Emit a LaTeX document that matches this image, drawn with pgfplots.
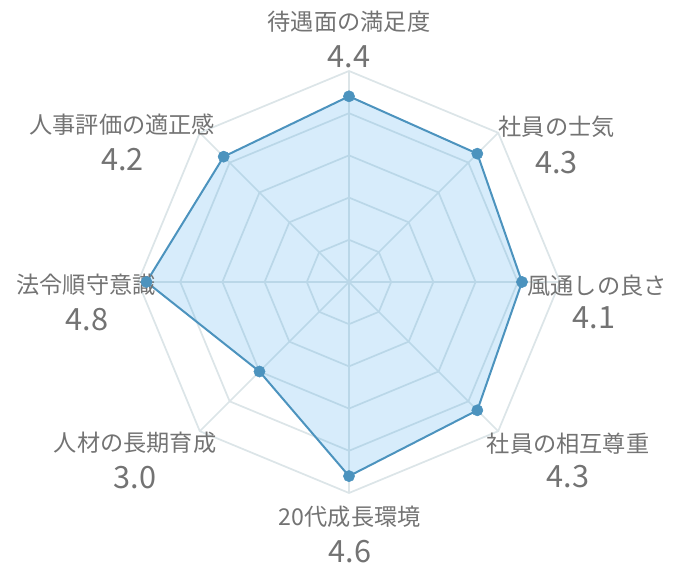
\documentclass[border=0pt]{standalone}
\usepackage{pgfplots}
\pgfplotsset{compat=1.18}
\usepackage{fontspec}
\newfontfamily\jp{Noto Sans CJK JP}
\definecolor{gridc}{RGB}{220,229,232}
\definecolor{linec}{RGB}{76,147,190}
\definecolor{fillc}{RGB}{54,162,235}
\definecolor{txt}{RGB}{115,115,115}
\begin{document}
\begin{tikzpicture}[
  grid line/.style={gridc, line width=1.3pt, mark=none},
  lab/.style={font=\jp\fontsize{17.4}{18}\selectfont, text=txt, inner sep=0pt},
  val/.style={font=\jp\fontsize{23}{24}\selectfont, text=txt, inner sep=0pt},
]
\begin{axis}[
  x=31.65pt, y=31.65pt,
  xmin=-8.270, xmax=7.749,
  ymin=-6.872, ymax=6.682,
  hide axis, clip=false,
]
% rings
\pgfplotsinvokeforeach{1,2,3,4,5}{
  \addplot[grid line, data cs=polar] coordinates {(90,#1) (45,#1) (0,#1) (-45,#1) (-90,#1) (-135,#1) (180,#1) (135,#1) (90,#1)};
}
% spokes
\addplot[grid line, data cs=polar] coordinates {(90,5) (-90,5)};
\addplot[grid line, data cs=polar] coordinates {(45,5) (-135,5)};
\addplot[grid line, data cs=polar] coordinates {(0,5) (180,5)};
\addplot[grid line, data cs=polar] coordinates {(-45,5) (135,5)};
% data
\addplot[data cs=polar, linec, line width=1.5pt, fill=fillc, fill opacity=0.2, draw opacity=1, mark=none]
  coordinates {(90,4.4) (45,4.3) (0,4.1) (-45,4.3) (-90,4.6) (-135,3.0) (180,4.8) (135,4.2) (90,4.4)} -- cycle;
\addplot[data cs=polar, draw=none, mark=*, mark size=4.2pt, mark options={fill=linec, draw=linec}, only marks]
  coordinates {(90,4.4) (45,4.3) (0,4.1) (-45,4.3) (-90,4.6) (-135,3.0) (180,4.8) (135,4.2)};
% labels
\node[lab] at (axis cs:0,6.16) {待遇面の満足度};
\node[val] at (axis cs:0,5.33) {4.4};
\node[lab] at (axis cs:4.92,3.67) {社員の士気};
\node[val] at (axis cs:4.92,2.84) {4.3};
\node[lab] at (axis cs:5.88,-0.09) {風通しの良さ};
\node[val] at (axis cs:5.81,-0.85) {4.1};
\node[lab] at (axis cs:5.19,-3.82) {社員の相互尊重};
\node[val] at (axis cs:5.19,-4.62) {4.3};
\node[lab] at (axis cs:0.02,-5.57) {20代成長環境};
\node[val] at (axis cs:0.02,-6.40) {4.6};
\node[lab] at (axis cs:-5.07,-3.82) {人材の長期育成};
\node[val] at (axis cs:-5.07,-4.64) {3.0};
\node[lab] at (axis cs:-6.23,-0.07) {法令順守意識};
\node[val] at (axis cs:-6.21,-0.90) {4.8};
\node[lab] at (axis cs:-5.37,3.72) {人事評価の適正感};
\node[val] at (axis cs:-5.37,2.91) {4.2};
\coordinate (bl) at (axis cs:-8.270,-6.872);
\coordinate (tr) at (axis cs:7.749,6.682);
\end{axis}
\pgfresetboundingbox
\path[use as bounding box] (bl) rectangle (tr);
\end{tikzpicture}
\end{document}
